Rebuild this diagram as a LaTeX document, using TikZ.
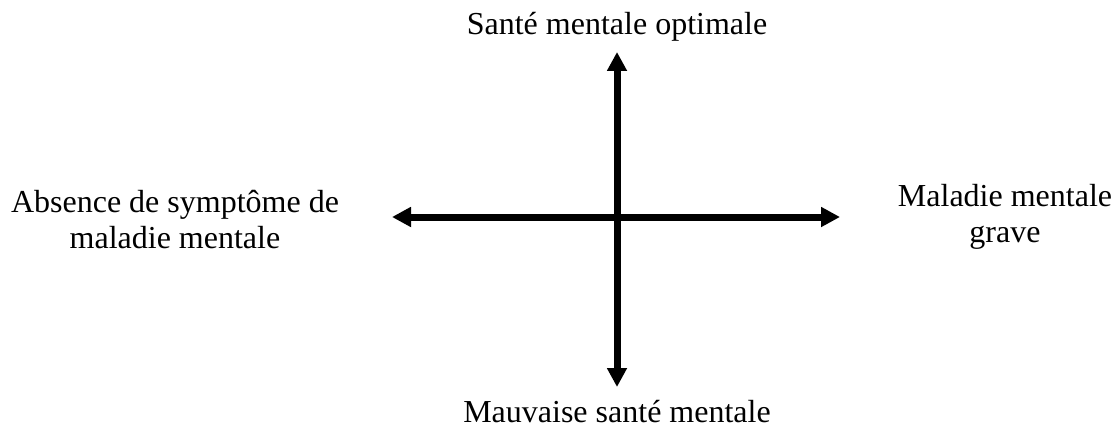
\documentclass[tikz,border=0pt]{standalone}
\usepackage{fontspec}
\setmainfont{Liberation Serif}
\usetikzlibrary{arrows.meta}

\tikzset{
  axe/.style={line width=5.25pt, {Triangle[length=14.25pt,width=14.25pt]}-{Triangle[length=14.25pt,width=14.25pt]}},
  etiquette/.style={inner sep=0pt, align=center, font=\fontsize{24}{27}\selectfont}
}

\begin{document}
\begin{tikzpicture}[x=0.75pt,y=0.75pt,yscale=-1,xscale=1]
		\useasboundingbox (0,0) rectangle (1116,428);
		
		%Coordinates of the axes
		\coordinate (haut) at (617,52);
		\coordinate (bas) at (617,387);
		\coordinate (gauche) at (392,217);
		\coordinate (droite) at (840,217);
		
		%Straight Lines
		\draw [axe] (bas) -- (haut);
		%Straight Lines
		\draw [axe] (gauche) -- (droite);
		
		% Text Node
		\node [etiquette, anchor=base] (optimale) at (617,35) {Santé mentale optimale};
		% Text Node
		\node [etiquette, anchor=base] (mauvaise) at (617,422) {Mauvaise santé mentale};
		% Text Node
		\node [etiquette] (absence) at (175,220) {Absence de symptôme de\\maladie mentale};
		% Text Node
		\node [etiquette] (maladie) at (1005,217) {Maladie mentale\\grave};
		
	\end{tikzpicture}
\end{document}
